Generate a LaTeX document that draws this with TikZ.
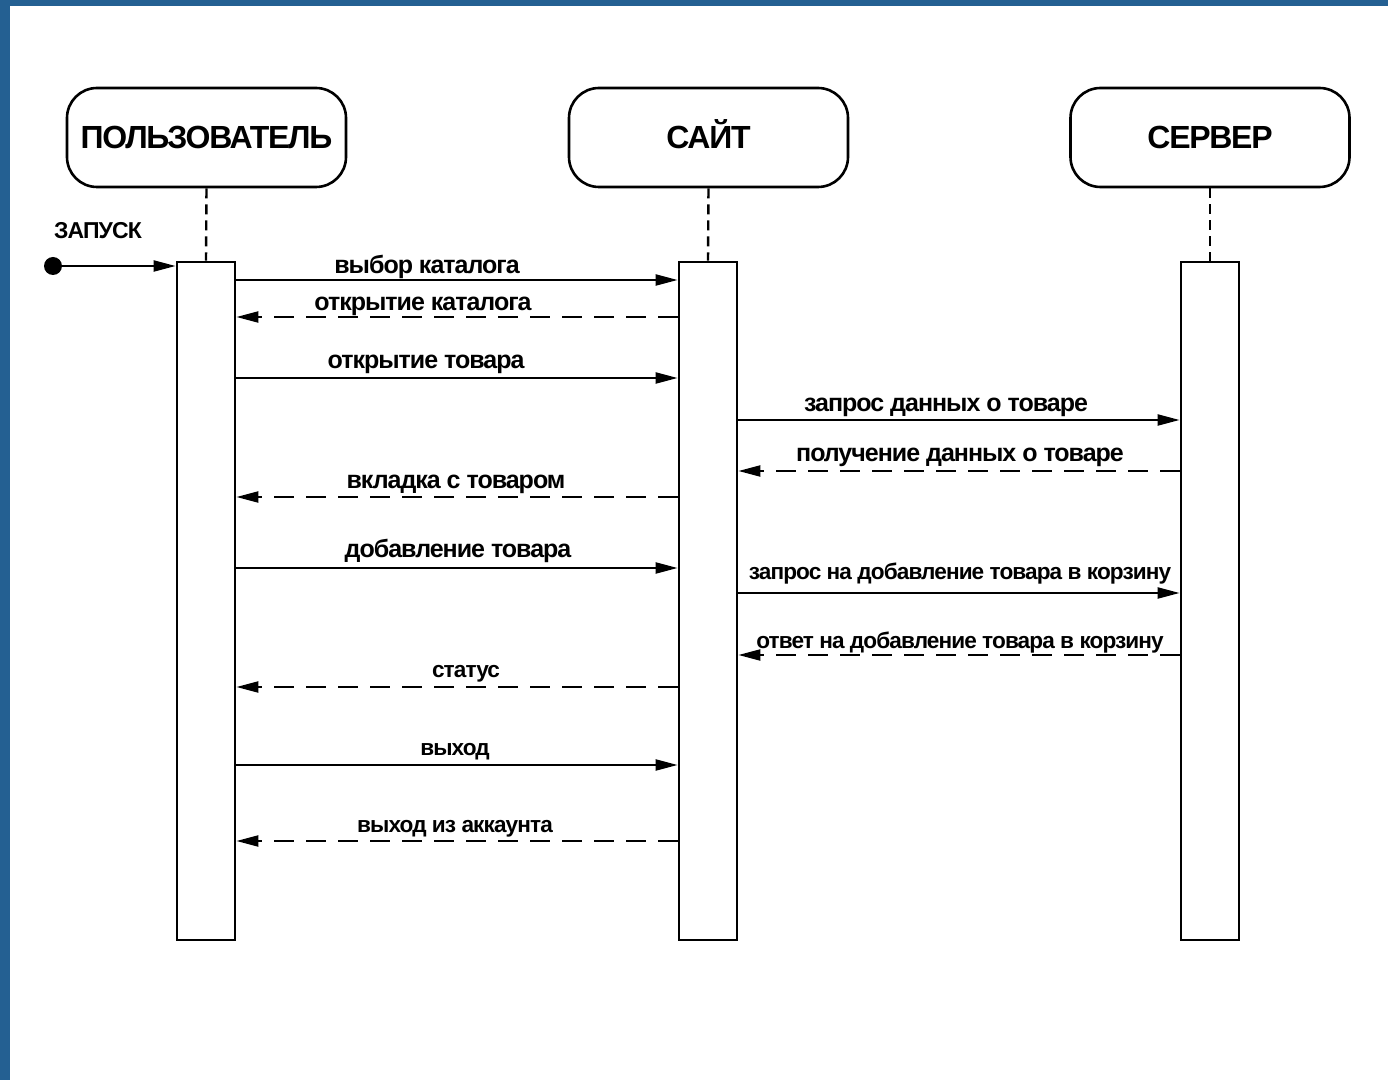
\documentclass[tikz,border=0pt]{standalone}
\usepackage{fontspec}
\setmainfont{Liberation Sans}[LetterSpace=-4]
\usetikzlibrary{arrows.meta}
\definecolor{frameblue}{RGB}{36,96,146}
\tikzset{
  actor/.style={draw, line width=1.3pt, rounded corners=15pt, minimum width=139.5pt, minimum height=49.5pt, font=\bfseries\fontsize{16}{18}\selectfont, text height=11.5pt, text depth=0pt, inner sep=0pt},
  actbox/.style={draw, line width=1.4pt, fill=white, minimum width=29pt, minimum height=339pt, inner sep=0pt},
  lifeline/.style={line width=1.2pt, dash pattern=on 5pt off 3pt},
  msg/.style={line width=1.1pt, -{Triangle[length=11pt,width=5.5pt]}},
  ret/.style={msg, dash pattern=on 10pt off 6pt},
  lbl/.style={font=\bfseries\fontsize{12.5}{14}\selectfont, inner sep=0pt, anchor=base},
  lbls/.style={lbl, font=\bfseries\fontsize{11.3}{13}\selectfont},
}
\begin{document}
\begin{tikzpicture}[x=0.5pt,y=-0.5pt]
\useasboundingbox (0,0) rectangle (1388,1080);
\fill[white] (0,0) rectangle (1388,1080);
\fill[frameblue] (0,0) rectangle (10,1080);
\fill[frameblue] (0,0) rectangle (1388,6);

% actors
\node[actor] (user) at (206.5,137.5) {ПОЛЬЗОВАТЕЛЬ};
\node[actor] (site) at (708.5,137.5) {САЙТ};
\node[actor] (srv)  at (1210,137.5) {СЕРВЕР};

% activation boxes
\node[actbox] (ua) at (206,601) {};
\node[actbox] (sa) at (708,601) {};
\node[actbox] (va) at (1210,601) {};

\draw[lifeline] (user.south) -- (ua.north);
\draw[lifeline] (site.south) -- (sa.north);
\draw[lifeline] (srv.south) -- (va.north);

% start
\node[circle, fill=black, minimum size=9pt, inner sep=0pt] (start) at (53,266) {};
\node[lbl, font=\bfseries\fontsize{11.5}{13}\selectfont] (zap) at (98,239) {ЗАПУСК};
\coordinate (uin) at (ua.west |- start);
\draw[msg] (start) -- (uin);

% helper coordinates
\foreach \n/\y in {1/280,2/317,3/378,6/497,7/568,10/687,11/765,12/841}{
  \coordinate (uL\n) at (ua.east |- 0,\y);
  \coordinate (sL\n) at (sa.west |- 0,\y);
}
\foreach \n/\y in {4/420,5/471,8/593,9/655}{
  \coordinate (sR\n) at (sa.east |- 0,\y);
  \coordinate (vL\n) at (va.west |- 0,\y);
}

\draw[msg] (uL1) -- (sL1);
\node[lbl] (t1) at (427,274) {выбор каталога};
\draw[ret] (sL2) -- (uL2);
\node[lbl] (t2) at (423,311) {открытие каталога};
\draw[msg] (uL3) -- (sL3);
\node[lbl] (t3) at (426,369) {открытие товара};
\draw[msg] (sR4) -- (vL4);
\node[lbl] (t4) at (946,412) {запрос данных о товаре};
\draw[ret] (vL5) -- (sR5);
\node[lbl] (t5) at (960,462) {получение данных о товаре};
\draw[ret] (sL6) -- (uL6);
\node[lbl] (t6) at (456,489) {вкладка с товаром};
\draw[msg] (uL7) -- (sL7);
\node[lbl] (t7) at (458,558) {добавление товара};
\draw[msg] (sR8) -- (vL8);
\node[lbls] (t8) at (960,580) {запрос на добавление товара в корзину};
\draw[ret] (vL9) -- (sR9);
\node[lbls] (t9) at (960,648) {ответ на добавление товара в корзину};
\draw[ret] (sL10) -- (uL10);
\node[lbls] (t10) at (466,677) {статус};
\draw[msg] (uL11) -- (sL11);
\node[lbls] (t11) at (455,755) {выход};
\draw[ret] (sL12) -- (uL12);
\node[lbls] (t12) at (455,832) {выход из аккаунта};
\end{tikzpicture}
\end{document}
